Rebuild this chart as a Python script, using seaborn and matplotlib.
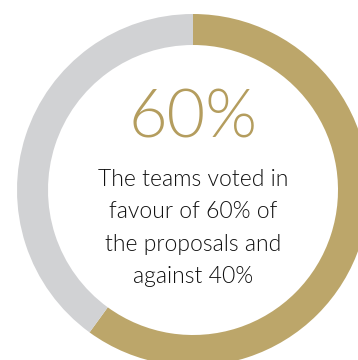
import matplotlib
matplotlib.use("Agg")
import matplotlib.pyplot as plt
import seaborn as sns

# data
labels = ["In favour", "Against"]
shares = [60, 40]
colours = ["#BCA66A", "#D1D2D4"]
headline = "60%"
caption = ["The teams voted in", "favour of 60% of", "the proposals and", "against 40%"]

sns.set_theme(style="white")
plt.rcParams["font.family"] = ["Lato", "DejaVu Sans"]

fig = plt.figure(figsize=(3.58, 3.60), dpi=100)
ax = fig.add_axes([0, 0, 1, 1])
ax.set_xlim(0, 358)
ax.set_ylim(0, 360)
ax.set_aspect("equal")
ax.axis("off")

ax.pie(shares, colors=colours, startangle=90, counterclock=False,
       center=(193, 170), radius=176,
       wedgeprops=dict(width=31, linewidth=0))

ax.text(193, 223, headline, ha="center", va="baseline",
        fontsize=48, fontweight=300, color="#B49D5E")

for i, line in enumerate(caption):
    ax.text(193, 174 - i * 32.3, line, ha="center", va="baseline",
            fontsize=16.5, fontweight=300, color="#111111")

ax.set_xlim(0, 358)
ax.set_ylim(0, 360)
fig.savefig("out.png", dpi=100)
